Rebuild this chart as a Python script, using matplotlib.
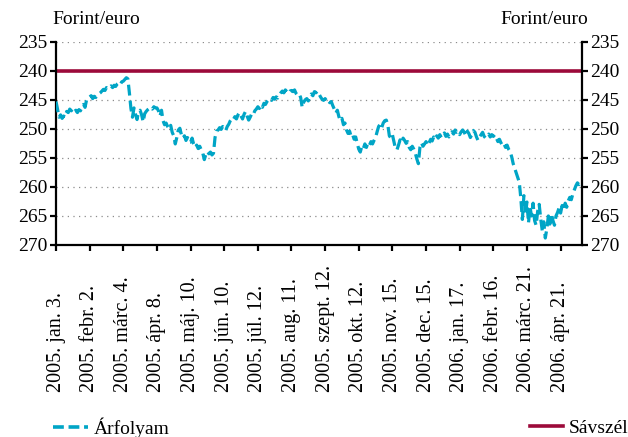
import matplotlib
matplotlib.use("Agg")
import matplotlib.pyplot as plt
from matplotlib.lines import Line2D
import numpy as np

# ---- data (daily EUR/HUF) ----
m_jan05 = [245.3, 246.6, 248.0, 247.6, 248.2, 247.8, 248.0, 247.0, 247.2, 246.6, 246.9,
           246.5, 247.0, 246.8, 247.2, 246.7, 246.9, 246.2, 245.8, 246.3, 245.0, 244.6]
m_feb05 = [244.5, 244.3, 244.8, 244.4, 244.6, 244.2, 244.0, 243.8, 243.5, 243.2, 243.4,
           242.9, 243.1, 242.8, 242.6, 242.9, 242.5, 242.7, 242.3, 242.1, 242.4, 241.9]
m_mar05 = [241.8, 241.5, 241.2, 241.4, 243.8, 246.5, 248.0, 246.4, 247.5, 248.4, 247.0,
           246.8, 247.6, 248.8, 247.4, 247.0, 246.7, 246.5, 246.3, 246.6, 246.2, 246.4]
m_apr05 = [246.4, 246.9, 247.8, 246.8, 248.6, 249.3, 249.0, 249.6, 250.0, 249.4, 250.6,
           251.2, 252.6, 251.5, 250.2, 249.9, 251.0, 251.6, 251.2, 252.0, 251.5, 252.3]
m_may05 = [252.3, 251.6, 252.6, 253.2, 252.8, 253.4, 253.0, 253.6, 254.2, 255.3, 254.4,
           253.9, 254.3, 254.0, 254.5, 254.2, 251.5, 250.4, 250.2, 249.8, 250.1, 249.6]
m_jun05 = [249.9, 250.3, 249.6, 249.2, 248.6, 248.2, 248.4, 247.9, 248.3, 247.6, 247.2,
           247.8, 248.3, 247.5, 247.0, 247.8, 248.5, 248.0, 247.4, 247.6, 246.9, 246.6]
m_jul05 = [246.2, 246.5, 245.9, 246.3, 245.6, 245.8, 245.3, 245.0, 244.8, 245.1, 244.6,
           244.9, 244.5, 244.7, 244.2, 243.8, 243.5, 243.8, 243.3, 243.6, 243.9, 243.5]
m_aug05 = [243.4, 243.6, 243.3, 243.9, 244.2, 244.0, 244.6, 246.3, 245.4, 245.0, 244.8,
           245.2, 244.4, 244.0, 244.3, 243.6, 243.8, 243.5, 244.0, 244.5, 244.9, 245.1]
m_sep05 = [244.8, 245.2, 245.0, 245.5, 245.3, 246.0, 246.6, 247.3, 246.8, 247.9, 248.6,
           248.2, 249.3, 249.0, 250.2, 250.8, 250.4, 251.3, 251.0, 251.8, 251.4, 252.5]
m_oct05 = [253.5, 254.0, 253.0, 253.4, 252.6, 253.2, 252.4, 252.8, 252.2, 252.6, 252.0,
           251.5, 250.5, 249.6, 249.2, 249.8, 249.0, 248.6, 248.5, 249.3, 251.2, 251.6]
m_nov05 = [251.0, 252.2, 253.4, 253.6, 252.8, 251.9, 252.4, 251.6, 252.0, 252.5, 252.2,
           253.2, 253.6, 253.0, 253.5, 254.2, 255.2, 256.0, 253.2, 252.4, 253.0, 252.6]
m_dec05 = [252.2, 252.9, 252.4, 251.8, 252.1, 251.4, 251.8, 251.2, 251.6, 251.0, 251.5,
           251.2, 250.7, 251.3, 250.9, 251.4, 250.8, 250.5, 250.9, 250.2, 250.6, 250.4]
m_jan06 = [251.0, 250.5, 250.2, 250.6, 251.2, 250.4, 250.8, 251.5, 251.0, 250.3, 250.6,
           251.4, 252.0, 251.4, 251.0, 250.6, 251.3, 251.6, 251.2, 250.9, 251.4, 251.0]
m_feb06 = [251.3, 251.0, 251.6, 252.2, 251.8, 252.4, 252.9, 252.6, 253.2, 252.8, 253.5,
           253.9, 254.8, 256.0, 256.8, 257.6, 258.4, 259.2, 262.0, 265.6, 261.5, 264.8]
m_mar06 = [262.6, 266.2, 263.5, 265.0, 262.8, 265.8, 266.6, 264.2, 263.0, 265.5, 267.5,
           266.0, 268.8, 267.2, 265.0, 266.4, 264.6, 265.8, 266.6, 265.0, 264.4, 263.6]
m_apr06 = [264.5, 263.2, 264.0, 262.8, 263.5, 262.4, 261.8, 262.2, 261.2, 260.5, 259.8,
           259.3, 259.6, 259.0]

band_edge = 240.0
tick_labels = ["2005. jan. 3.", "2005. febr. 2.", "2005. márc. 4.", "2005. ápr. 8.",
               "2005. máj. 10.", "2005. jún. 10.", "2005. júl. 12.", "2005. aug. 11.",
               "2005. szept. 12.", "2005. okt. 12.", "2005. nov. 15.", "2005. dec. 15.",
               "2006. jan. 17.", "2006. febr. 16.", "2006. márc. 21.", "2006. ápr. 21."]
tick_step = 22
y_ticks = [235, 240, 245, 250, 255, 260, 265, 270]

rate = np.concatenate([m_jan05, m_feb05, m_mar05, m_apr05, m_may05, m_jun05, m_jul05,
                       m_aug05, m_sep05, m_oct05, m_nov05, m_dec05, m_jan06, m_feb06,
                       m_mar06, m_apr06])
n = len(rate)
x = np.arange(n)

# ---- style ----
plt.rcParams['font.family'] = ['Liberation Serif', 'DejaVu Serif']
CYAN = '#00a5c6'
RED = '#9c0a3a'

fig = plt.figure(figsize=(6.28, 4.37), dpi=100)
ax = fig.add_axes([56/628, 1-245/437, 526/628, (245-41.7)/437])

ax.plot(x, rate, color=CYAN, lw=2.3, linestyle=(0, (3.4, 1.6)), solid_capstyle='butt',
        dash_capstyle='butt', zorder=3)
ax.plot([0, n], [band_edge, band_edge], color=RED, lw=2.6, zorder=2, solid_capstyle='butt')

ax.set_xlim(0, n)
ax.set_ylim(270, 235)
ax.set_yticks(y_ticks)
for yv in y_ticks[:-1]:
    ax.axhline(yv, color='#8c8c8c', lw=0.9, linestyle=(0, (1, 3.5)), zorder=1)

ax.spines['top'].set_visible(False)
for s in ['left', 'right', 'bottom']:
    ax.spines[s].set_linewidth(1.6)
    ax.spines[s].set_color('black')

ax.tick_params(axis='y', which='both', left=True, right=True, labelleft=True,
               labelright=True, direction='out', length=4, width=1.6,
               labelsize=14, pad=2)
ax.set_xticks(np.arange(len(tick_labels)) * tick_step)
ax.set_xticklabels(tick_labels)
ax.tick_params(axis='x', direction='out', length=4, width=1.6, labelsize=14.5, pad=102)
for lab in ax.get_xticklabels():
    lab.set_rotation(90)
    lab.set_rotation_mode('anchor')
    lab.set_ha('left')
    lab.set_va('center')

fig.text(52/628, 1-19/437, 'Forint/euro', fontsize=14, ha='left', va='center')
fig.text(588/628, 1-19/437, 'Forint/euro', fontsize=14, ha='right', va='center')

h1 = Line2D([], [], color=CYAN, lw=2.6, linestyle=(0, (3.0, 1.3)))
h2 = Line2D([], [], color=RED, lw=2.6)
leg1 = fig.legend(handles=[h1], labels=['Árfolyam'], loc='center left',
                  bbox_to_anchor=(53/628, 1-428/437), frameon=False, fontsize=14,
                  handlelength=1.8, handletextpad=0.3, borderpad=0, borderaxespad=0)
leg2 = fig.legend(handles=[h2], labels=['Sávszél'], loc='center left',
                  bbox_to_anchor=(530/628, 1-428/437), frameon=False, fontsize=14,
                  handlelength=1.7, handletextpad=0.3, borderpad=0, borderaxespad=0)

fig.savefig('out.png', dpi=100)
